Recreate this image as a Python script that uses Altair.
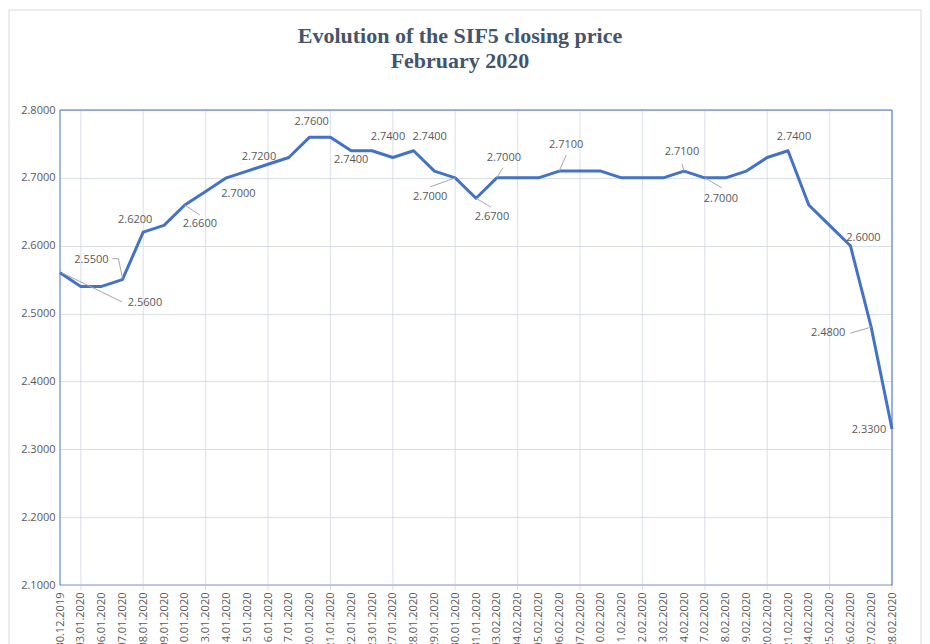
import altair as alt
import pandas as pd

title_lines = ["Evolution of the SIF5 closing price", "February 2020"]
dates = ["30.12.2019", "03.01.2020", "06.01.2020", "07.01.2020", "08.01.2020",
         "09.01.2020", "10.01.2020", "13.01.2020", "14.01.2020", "15.01.2020",
         "16.01.2020", "17.01.2020", "20.01.2020", "21.01.2020", "22.01.2020",
         "23.01.2020", "27.01.2020", "28.01.2020", "29.01.2020", "30.01.2020",
         "31.01.2020", "03.02.2020", "04.02.2020", "05.02.2020", "06.02.2020",
         "07.02.2020", "10.02.2020", "11.02.2020", "12.02.2020", "13.02.2020",
         "14.02.2020", "17.02.2020", "18.02.2020", "19.02.2020", "20.02.2020",
         "21.02.2020", "24.02.2020", "25.02.2020", "26.02.2020", "27.02.2020",
         "28.02.2020"]
prices = [2.56, 2.54, 2.54, 2.55, 2.62, 2.63, 2.66, 2.68, 2.70, 2.71,
          2.72, 2.73, 2.76, 2.76, 2.74, 2.74, 2.73, 2.74, 2.71, 2.70,
          2.67, 2.70, 2.70, 2.70, 2.71, 2.71, 2.71, 2.70, 2.70, 2.70,
          2.71, 2.70, 2.70, 2.71, 2.73, 2.74, 2.66, 2.63, 2.60, 2.48,
          2.33]
y_ticks = [2.1, 2.2, 2.3, 2.4, 2.5, 2.6, 2.7, 2.8]
labelled = [0, 3, 4, 6, 8, 10, 12, 14, 15, 17, 19, 20, 21, 24, 30, 31, 35, 38, 39, 40]

# manual data-label placement (pixel offsets from the point), like Excel's dragged labels
label_offsets = {0: (85, 30), 3: (-31, -20), 4: (-8, -12), 6: (15, 19), 8: (12, 16),
                 10: (-9, -7), 12: (2, -15), 14: (0, 9), 15: (16, -14), 17: (16, -14),
                 19: (-25, 19), 20: (16, 19), 21: (7, -20), 24: (7, -26), 30: (-2, -19),
                 31: (16, 21), 35: (6, -14), 38: (13, -8), 39: (-43, 6), 40: (-23, 1)}
leaders = [(0, 2, 0, 62, 29), (3, -10, -21, -4, -21), (3, -4, -21, 0, -2),
           (6, 0, 0, 15, 10), (19, 0, 0, -25, 9), (20, 0, 0, 15, 9),
           (21, 0, 0, 6, -10), (24, 0, 0, 7, -16), (30, 0, 0, -2, -7),
           (31, 0, 0, 17, 10), (39, 0, 0, -21, 6)]

df = pd.DataFrame({"i": list(range(len(dates))), "date": dates, "v": prices})
df["lab"] = df["v"].map(lambda x: f"{x:.4f}")

GRID = "#D9DEE7"
TXT = "#595959"
BLUE = "#4472C4"
FONT = "Open Sans"
W, H = 832, 475

label_js = "[" + ",".join(f"'{d}'" for d in dates) + "][datum.value]"

x_scale = alt.Scale(domain=[0, len(dates) - 1], nice=False, zero=False)
x_enc = alt.X("i:Q", scale=x_scale,
              axis=alt.Axis(values=list(range(len(dates))), tickCount=len(dates),
                            labelExpr=label_js, grid=False, ticks=False,
                            labelAngle=-90, labelAlign="right", labelBaseline="middle",
                            labelFlush=False, labelOverlap=False, title=None, domain=False,
                            labelPadding=7, labelFont=FONT, labelFontSize=11,
                            labelColor=TXT))
y_enc = alt.Y("v:Q",
              scale=alt.Scale(domain=[2.1, 2.8], nice=False, zero=False),
              axis=alt.Axis(values=y_ticks, format=".4f", title=None, domain=False,
                            ticks=False, labelPadding=5, labelFont=FONT, labelFontSize=11,
                            labelColor=TXT, gridColor=GRID))

base = alt.Chart(df)
one = alt.Chart(pd.DataFrame({"a": [0]}))

frame = one.mark_rect(
    fillOpacity=0, stroke="#D9D9D9", strokeWidth=1
).encode(x=alt.value(-51), x2=alt.value(861), y=alt.value(-100), y2=alt.value(560))

title_layers = [
    one.mark_text(text=title_lines[0], font="Liberation Serif", fontSize=22, fontWeight="bold",
                  color="#44546A", align="center", baseline="alphabetic")
    .encode(x=alt.value(400), y=alt.value(-67)),
    one.mark_text(text=title_lines[1], font="Liberation Serif", fontSize=22, fontWeight="bold",
                  color="#44546A", align="center", baseline="alphabetic")
    .encode(x=alt.value(400), y=alt.value(-42)),
]

# vertical gridlines + small ticks on every third category (Excel tick interval 3)
vgrid = base.transform_filter("datum.i % 3 == 1").mark_rule(color=GRID, strokeWidth=1).encode(
    x=alt.X("i:Q", scale=x_scale), y=alt.value(0), y2=alt.value(H + 5))

# plot-area outline: blue on left, top and right; bottom is the grey gridline
outline = one.mark_rect(fillOpacity=0, stroke=BLUE, strokeWidth=1).encode(
    x=alt.value(0), x2=alt.value(W), y=alt.value(0), y2=alt.value(H))
bottom = one.mark_rule(color=GRID, strokeWidth=1).encode(
    x=alt.value(1), x2=alt.value(W - 1), y=alt.value(H))

line = base.mark_line(color=BLUE, strokeWidth=3, strokeJoin="round").encode(x=x_enc, y=y_enc)

leader_layers = []
for (k, x0, y0, x1, y1) in leaders:
    leader_layers.append(
        base.transform_filter(alt.datum.i == k).mark_rule(
            color="#A6A6A6", strokeWidth=1, xOffset=x0, yOffset=y0, x2Offset=x1, y2Offset=y1
        ).encode(x="i:Q", y="v:Q", x2="i:Q", y2="v:Q")
    )

label_layers = []
for k in labelled:
    dx, dy = label_offsets[k]
    label_layers.append(
        base.transform_filter(alt.datum.i == k).mark_text(
            font=FONT, fontSize=11, color=TXT, align="center", baseline="middle", dx=dx, dy=dy
        ).encode(x="i:Q", y="v:Q", text="lab:N")
    )

chart = alt.layer(frame, *title_layers, vgrid, outline, bottom, line,
                  *leader_layers, *label_layers).properties(
    width=W, height=H,
    autosize=alt.AutoSizeParams(type="none"),
    padding={"left": 52, "top": 102, "right": 30, "bottom": 59},
).configure_view(stroke=None)

chart.save("out.html", embed_options={"renderer": "svg", "actions": False})
